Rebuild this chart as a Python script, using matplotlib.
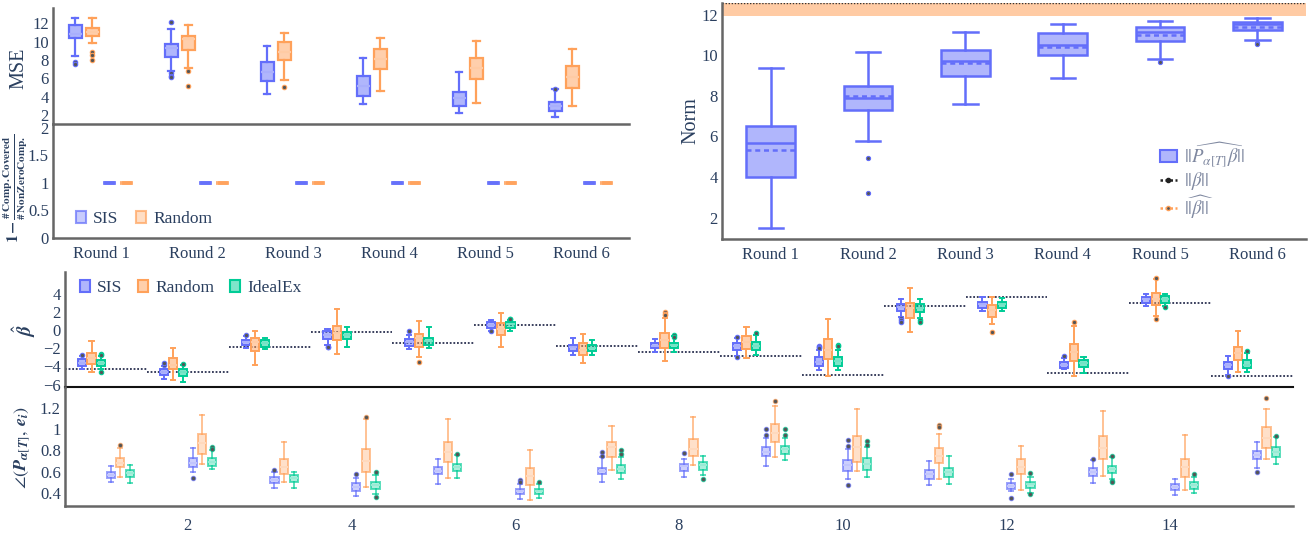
import matplotlib
matplotlib.use("Agg")
import matplotlib.pyplot as plt
import matplotlib.patches as mpatches
from matplotlib.lines import Line2D
from matplotlib.colors import to_rgba

plt.rcParams['font.family'] = ['Liberation Serif', 'DejaVu Serif']
plt.rcParams['mathtext.fontset'] = 'stix'

TXT = '#2a3f5f'
C_SIS, C_RND, C_IDL = '#636EFA', '#FFA15A', '#00CC96'

# ---------------- data ----------------
rounds = ['Round 1', 'Round 2', 'Round 3', 'Round 4', 'Round 5', 'Round 6']

# MSE panel
mse_sis_lo = [8.43, 6.84, 4.29, 3.2, 2.25, 1.75]
mse_sis_q1 = [10.36, 8.36, 5.7, 4.07, 2.98, 2.44]
mse_sis_med = [10.8, 9.34, 6.72, 5.16, 3.89, 2.98]
mse_sis_q3 = [11.81, 9.7, 7.81, 6.25, 4.54, 3.45]
mse_sis_hi = [12.55, 11.4, 9.56, 8.18, 6.72, 4.8]
mse_sis_out = [[7.8, 7.6], [12.1, 6.6, 6.3, 6.1], [], [], [], [4.85]]

mse_rnd_lo = [9.8, 7.1, 5.82, 4.6, 3.34, 2.98]
mse_rnd_q1 = [10.6, 9.1, 8.0, 6.98, 5.89, 4.9]
mse_rnd_med = [11.0, 10.25, 8.9, 8.07, 7.16, 6.11]
mse_rnd_q3 = [11.45, 10.65, 9.93, 9.16, 8.25, 7.38]
mse_rnd_hi = [12.6, 11.8, 10.98, 10.36, 10.07, 9.2]
mse_rnd_out = [[8.9, 8.55, 8.0], [6.83, 5.16], [5.09], [], [], []]

# coverage panel
cov_sis = [1, 1, 1, 1, 1, 1]
cov_rnd = [1, 1, 1, 1, 1, 1]

# Norm panel
norm_lo = [1.5, 5.78, 7.59, 8.9, 9.83, 10.77]
norm_q1 = [3.99, 7.31, 8.99, 10.02, 10.73, 11.26]
norm_med = [5.69, 7.92, 9.73, 10.52, 11.18, 11.56]
norm_mean = [5.33, 8.02, 9.61, 10.44, 11.01, 11.42]
norm_q3 = [6.52, 8.49, 10.27, 11.1, 11.42, 11.65]
norm_hi = [9.37, 10.19, 11.18, 11.56, 11.72, 11.83]
norm_out = [[], [4.92, 3.23], [], [], [9.7], [10.62, 10.55]]
norm_beta_true = 12.6
norm_beta_hat_band = [11.95, 12.62]

# beta-hat panel (components 1..15)
comp = list(range(1, 16))
beta_true = [-4.29, -4.65, -1.9, -0.18, -1.4, 0.55, -1.76, -2.45, -2.82, -4.95, 2.67, 3.59, -4.69, 2.93, -5.05]

bh_sis_lo = [-4.3, -5.4, -2.0, -1.65, -2.1, -0.1, -2.75, -2.4, -2.9, -4.4, 1.47, 2.12, -4.3, 2.64, -4.9]
bh_sis_q1 = [-4.0, -4.95, -1.65, -1.0, -1.76, 0.26, -2.3, -2.0, -2.2, -3.96, 2.1, 2.45, -4.2, 3.0, -4.3]
bh_sis_med = [-3.66, -4.65, -1.35, -0.55, -1.28, 0.55, -1.9, -1.75, -1.75, -3.48, 2.5, 2.82, -3.85, 3.37, -3.85]
bh_sis_q3 = [-3.2, -4.3, -1.1, -0.1, -1.0, 0.84, -1.6, -1.47, -1.4, -3.0, 2.86, 3.11, -3.48, 3.66, -3.48]
bh_sis_hi = [-2.9, -3.95, -0.7, 0.07, -0.55, 1.1, -0.9, -1.0, -0.85, -2.2, 3.37, 3.66, -3.1, 3.96, -2.86]
bh_sis_out = [[-2.75], [-3.8, -3.65], [-0.55], [-1.9, -1.85], [-0.1], [-0.1], [], [], [-0.73, -3.0],
              [-1.76, -1.9, -2.0], [1.28, 1.1, 0.9], [], [-2.86], [], [-5.05]]

bh_rnd_lo = [-4.6, -5.5, -3.8, -2.64, -3.0, -1.9, -3.66, -3.37, -3.1, -5.05, -0.2, 0.66, -5.05, 1.54, -4.58]
bh_rnd_q1 = [-3.77, -4.3, -2.3, -1.1, -1.83, -0.55, -2.75, -1.94, -2.1, -3.22, 1.36, 1.47, -3.37, 2.75, -3.3]
bh_rnd_med = [-3.1, -3.85, -1.3, -0.37, -0.9, 0.07, -2.2, -1.1, -1.28, -2.2, 2.4, 2.2, -2.38, 3.37, -2.56]
bh_rnd_q3 = [-2.56, -3.1, -0.9, 0.48, -0.48, 0.73, -1.47, -0.37, -0.66, -1.03, 3.0, 2.75, -1.54, 4.03, -1.83]
bh_rnd_hi = [-1.2, -1.95, -0.1, 2.27, 1.0, 1.9, -0.48, 1.28, 0.3, 1.17, 4.58, 3.59, 0.44, 5.57, -0.07]
bh_rnd_out = [[], [], [], [], [-3.55], [], [], [2.0, 1.8, 1.65], [], [], [], [-0.18], [0.9], [5.7, 1.17], []]

bh_idl_lo = [-4.3, -5.7, -2.1, -1.9, -2.0, -0.1, -2.75, -2.4, -2.75, -4.4, 1.28, 2.09, -4.76, 2.64, -4.58]
bh_idl_q1 = [-4.0, -5.0, -1.85, -1.0, -1.7, 0.26, -2.3, -2.0, -2.2, -3.92, 2.0, 2.45, -4.03, 3.0, -4.2]
bh_idl_med = [-3.6, -4.65, -1.4, -0.6, -1.2, 0.62, -1.94, -1.65, -1.75, -3.37, 2.45, 2.82, -3.66, 3.37, -3.85]
bh_idl_q3 = [-3.3, -4.3, -1.1, -0.18, -0.9, 0.84, -1.65, -1.4, -1.28, -2.93, 2.82, 3.11, -3.3, 3.74, -3.3]
bh_idl_hi = [-2.9, -3.85, -0.85, 0.3, 0.3, 1.1, -1.1, -0.7, -0.55, -2.2, 3.37, 3.48, -2.93, 3.96, -2.56]
bh_idl_out = [[-2.65, -2.8, -4.6], [-3.7], [], [], [], [1.2, 1.25], [], [-0.55, -0.75], [-0.37],
              [-1.65, -1.8], [1.1, 0.9], [], [], [2.5], [-2.27]]

# angle panel
ang_sis_lo = [0.506, 0.6, 0.443, 0.374, 0.484, 0.34, 0.506, 0.547, 0.657, 0.53, 0.47, 0.418, 0.49, 0.38, 0.632]
ang_sis_q1 = [0.544, 0.641, 0.49, 0.42, 0.575, 0.387, 0.575, 0.607, 0.748, 0.607, 0.531, 0.434, 0.562, 0.43, 0.717]
ang_sis_med = [0.572, 0.685, 0.52, 0.46, 0.607, 0.415, 0.61, 0.65, 0.79, 0.66, 0.574, 0.465, 0.6, 0.46, 0.757]
ang_sis_q3 = [0.6, 0.731, 0.553, 0.49, 0.641, 0.434, 0.636, 0.67, 0.83, 0.71, 0.616, 0.49, 0.632, 0.484, 0.798]
ang_sis_hi = [0.654, 0.82, 0.6, 0.537, 0.72, 0.484, 0.742, 0.72, 0.92, 0.81, 0.7, 0.531, 0.71, 0.528, 0.883]
ang_sis_out = [[], [0.538], [0.62], [0.58], [], [0.52, 0.5], [0.79, 0.75], [0.78], [1.0, 0.95],
               [0.898, 0.84, 0.474], [], [0.574, 0.355], [0.715], [], [0.6]]

ang_rnd_lo = [0.547, 0.673, 0.506, 0.46, 0.538, 0.333, 0.616, 0.665, 0.742, 0.607, 0.528, 0.426, 0.562, 0.426, 0.716]
ang_rnd_q1 = [0.641, 0.767, 0.578, 0.6, 0.694, 0.475, 0.742, 0.748, 0.883, 0.694, 0.679, 0.575, 0.72, 0.553, 0.827]
ang_rnd_med = [0.685, 0.874, 0.647, 0.7, 0.789, 0.56, 0.836, 0.81, 0.962, 0.836, 0.75, 0.642, 0.82, 0.642, 0.92]
ang_rnd_q3 = [0.726, 0.956, 0.72, 0.81, 0.883, 0.632, 0.883, 0.906, 1.047, 0.94, 0.821, 0.72, 0.937, 0.716, 1.018]
ang_rnd_hi = [0.82, 1.135, 0.883, 1.1, 1.097, 0.8, 1.034, 1.12, 1.22, 1.19, 0.959, 0.845, 1.175, 0.946, 1.195]
ang_rnd_out = [[0.853], [], [], [1.113], [], [], [], [], [1.27], [], [1.04, 1.025], [], [], [], [1.30]]

ang_idl_lo = [0.497, 0.623, 0.45, 0.39, 0.538, 0.35, 0.528, 0.566, 0.71, 0.553, 0.48, 0.4, 0.53, 0.4, 0.674]
ang_idl_q1 = [0.553, 0.657, 0.506, 0.437, 0.607, 0.39, 0.585, 0.617, 0.77, 0.62, 0.553, 0.45, 0.585, 0.44, 0.742]
ang_idl_med = [0.585, 0.69, 0.537, 0.475, 0.64, 0.42, 0.625, 0.66, 0.81, 0.672, 0.6, 0.48, 0.622, 0.47, 0.788]
ang_idl_q3 = [0.616, 0.726, 0.569, 0.506, 0.67, 0.44, 0.663, 0.689, 0.84, 0.725, 0.639, 0.506, 0.654, 0.5, 0.83]
ang_idl_hi = [0.66, 0.8, 0.6, 0.565, 0.76, 0.48, 0.742, 0.75, 0.92, 0.836, 0.75, 0.55, 0.735, 0.547, 0.93]
ang_idl_out = [[], [0.83, 0.81], [], [0.6, 0.358], [0.764], [0.5], [0.8, 0.77], [0.53], [1.0, 0.95],
               [0.89, 0.85], [], [0.59, 0.39], [0.745, 0.51, 0.50], [0.58], [0.935]]

# ---------------- helpers ----------------
W, H = 1310, 535
fig = plt.figure(figsize=(W / 100, H / 100), dpi=100)


def add_ax(x0, y0, x1, y1):
    return fig.add_axes([x0 / W, 1 - y1 / H, (x1 - x0) / W, (y1 - y0) / H])


def lighten(c, f):
    r, g, b, _ = to_rgba(c)
    return (r + (1 - r) * f, g + (1 - g) * f, b + (1 - b) * f, 1)


def boxes(ax, pos, lo, q1, med, q3, hi, out, color, width, alpha=1.0, fill=0.5, lw=1.6,
          med_color=None, mean=None, fsize=3.2, zorder=3):
    stats = []
    for i in range(len(pos)):
        d = dict(whislo=lo[i], q1=q1[i], med=med[i], q3=q3[i], whishi=hi[i], fliers=out[i])
        if mean is not None:
            d['mean'] = mean[i]
        stats.append(d)
    ec = to_rgba(color, alpha)
    fc = to_rgba(color, fill * alpha)
    mc = med_color if med_color is not None else ec
    ax.bxp(stats, positions=pos, widths=width, patch_artist=True,
           showmeans=mean is not None, meanline=True, manage_ticks=False,
           boxprops=dict(facecolor=fc, edgecolor=ec, linewidth=lw),
           whiskerprops=dict(color=ec, linewidth=lw),
           capprops=dict(color=ec, linewidth=lw),
           medianprops=dict(color=mc, linewidth=lw),
           meanprops=dict(color=ec, linewidth=lw, linestyle=(0, (2, 1.5))),
           flierprops=dict(marker='o', markersize=fsize, markerfacecolor='#555555',
                           markeredgecolor=to_rgba(color, alpha), markeredgewidth=0.8,
                           linestyle='none'),
           zorder=zorder)


def style(ax, spine_color='#666666', lw=1.8):
    for s in ['top', 'right']:
        ax.spines[s].set_visible(False)
    for s in ['left', 'bottom']:
        ax.spines[s].set_color(spine_color)
        ax.spines[s].set_linewidth(lw)
    ax.tick_params(length=0, labelsize=12, colors=TXT, pad=3)
    ax.set_facecolor('none')


def fmt(v):
    s = ('%g' % v)
    return s.replace('-', '\u2212')


# ---------------- MSE panel ----------------
ax1 = add_ax(53, 8, 629, 123.5)
style(ax1)
idx = list(range(len(rounds)))
boxes(ax1, [i - 0.27 for i in idx], mse_sis_lo, mse_sis_q1, mse_sis_med, mse_sis_q3, mse_sis_hi,
      mse_sis_out, C_SIS, 0.135, med_color=lighten(C_SIS, 0.45))
boxes(ax1, [i - 0.09 for i in idx], mse_rnd_lo, mse_rnd_q1, mse_rnd_med, mse_rnd_q3, mse_rnd_hi,
      mse_rnd_out, C_RND, 0.135, med_color=lighten(C_RND, 0.45))
ax1.set_xlim(-0.5, 5.5)
ax1.set_ylim(1.07, 13.67)
ax1.set_yticks([2, 4, 6, 8, 10, 12])
ax1.set_yticklabels([fmt(v) for v in [2, 4, 6, 8, 10, 12]])
ax1.set_xticks([])

# ---------------- coverage panel ----------------
ax2 = add_ax(53, 123.5, 629, 237.7)
style(ax2)
zeros = [[] for _ in idx]
boxes(ax2, [i + 0.09 for i in idx], cov_sis, cov_sis, cov_sis, cov_sis, cov_sis, zeros,
      C_SIS, 0.135, alpha=0.6, lw=2.6)
boxes(ax2, [i + 0.27 for i in idx], cov_rnd, cov_rnd, cov_rnd, cov_rnd, cov_rnd, zeros,
      C_RND, 0.135, alpha=0.6, lw=2.6)
ax2.set_xlim(-0.5, 5.5)
ax2.set_ylim(0, 2.08)
ax2.set_yticks([0, 0.5, 1, 1.5, 2])
ax2.set_yticklabels([fmt(v) for v in [0, 0.5, 1, 1.5, 2]])
ax2.set_xticks(idx)
ax2.set_xticklabels(rounds)
ax2.tick_params(axis='x', pad=6)
h_sis = mpatches.Patch(facecolor=to_rgba(C_SIS, 0.35), edgecolor=to_rgba(C_SIS, 0.7), linewidth=1.5)
h_rnd = mpatches.Patch(facecolor=to_rgba(C_RND, 0.35), edgecolor=to_rgba(C_RND, 0.7), linewidth=1.5)
ax2.legend([h_sis, h_rnd], ['SIS', 'Random'], loc='center left',
           bbox_to_anchor=((76 - 53) / 576, (237.7 - 219) / 114.2), ncol=2, frameon=False,
           handlelength=0.55, handleheight=0.7, handletextpad=0.45, columnspacing=1.0,
           borderaxespad=0, borderpad=0, fontsize=12.5, labelcolor=TXT)

# ---------------- Norm panel ----------------
ax3 = add_ax(722, 3, 1306, 239)
style(ax3)
ax3.axhspan(norm_beta_hat_band[0], norm_beta_hat_band[1], color='#FFCBA4', zorder=1, lw=0)
ax3.axhline(norm_beta_true, color='#333333', ls=(0, (1, 1.2)), lw=1.0, zorder=2)
boxes(ax3, idx, norm_lo, norm_q1, norm_med, norm_q3, norm_hi, norm_out, C_SIS, 0.5,
      mean=norm_mean, lw=1.8, fsize=3.0)
ax3.set_xlim(-0.5, 5.5)
ax3.set_ylim(0.94, 12.59)
ax3.set_yticks([2, 4, 6, 8, 10, 12])
ax3.set_yticklabels([fmt(v) for v in [2, 4, 6, 8, 10, 12]])
ax3.set_xticks(idx)
ax3.set_xticklabels(rounds)
ax3.tick_params(axis='x', pad=6)
hb = mpatches.Patch(facecolor=to_rgba(C_SIS, 0.5), edgecolor=C_SIS, linewidth=1.5)
hl1 = Line2D([], [], color='#222222', ls=(0, (1, 1)), lw=1.8, marker='o', markersize=3)
hl2 = Line2D([], [], color='#FFA15A', ls=(0, (1, 1)), lw=1.8, marker='o', markersize=3,
             markerfacecolor='#555555', markeredgecolor='#FFA15A')
ax3.legend([hb, hl1, hl2],
           [r'$||\widehat{P_{\alpha[T]}\beta}||$', r'$||\beta||$', r'$\widehat{||\beta||}$'],
           loc='upper left', bbox_to_anchor=((1160 - 722) / 584, (239 - 140) / 236),
           frameon=False, handlelength=0.9, handleheight=0.6, handletextpad=0.4,
           labelspacing=0.05, borderaxespad=0, borderpad=0, fontsize=13.5, labelcolor='#7f88a0')

# ---------------- beta-hat panel ----------------
ax4 = add_ax(65, 272, 1293, 386.7)
style(ax4)
ax4.spines['bottom'].set_color('#111111')
ax4.spines['bottom'].set_linewidth(1.5)
ax4.hlines(beta_true, [c - 0.5 for c in comp], [c + 0.5 for c in comp], colors='#2a3050',
           linestyles=(0, (1, 1)), linewidth=1.3, zorder=2)
boxes(ax4, [c - 0.293 for c in comp], bh_sis_lo, bh_sis_q1, bh_sis_med, bh_sis_q3, bh_sis_hi,
      bh_sis_out, C_SIS, 0.1, lw=1.4, med_color=lighten(C_SIS, 0.45))
boxes(ax4, [c - 0.176 for c in comp], bh_rnd_lo, bh_rnd_q1, bh_rnd_med, bh_rnd_q3, bh_rnd_hi,
      bh_rnd_out, C_RND, 0.1, lw=1.4, med_color=lighten(C_RND, 0.45))
boxes(ax4, [c - 0.059 for c in comp], bh_idl_lo, bh_idl_q1, bh_idl_med, bh_idl_q3, bh_idl_hi,
      bh_idl_out, C_IDL, 0.1, lw=1.4, med_color=lighten(C_IDL, 0.45))
ax4.set_xlim(0.5, 15.5)
ax4.set_ylim(-6.23, 6.37)
ax4.set_yticks([-6, -4, -2, 0, 2, 4])
ax4.set_yticklabels([fmt(v) for v in [-6, -4, -2, 0, 2, 4]])
ax4.set_xticks([])
h3 = [mpatches.Patch(facecolor=to_rgba(c, 0.5), edgecolor=c, linewidth=1.5)
      for c in (C_SIS, C_RND, C_IDL)]
ax4.legend(h3, ['SIS', 'Random', 'IdealEx'], loc='center left',
           bbox_to_anchor=((80 - 65) / 1228, (386.7 - 288) / 114.7), ncol=3, frameon=False,
           handlelength=0.55, handleheight=0.7, handletextpad=0.45, columnspacing=0.9,
           borderaxespad=0, borderpad=0, fontsize=12.5, labelcolor=TXT)

# ---------------- angle panel ----------------
ax5 = add_ax(65, 386.7, 1293, 505.7)
style(ax5)
boxes(ax5, [c + 0.059 for c in comp], ang_sis_lo, ang_sis_q1, ang_sis_med, ang_sis_q3, ang_sis_hi,
      ang_sis_out, C_SIS, 0.1, alpha=0.65, lw=1.4, med_color=lighten(C_SIS, 0.6))
boxes(ax5, [c + 0.176 for c in comp], ang_rnd_lo, ang_rnd_q1, ang_rnd_med, ang_rnd_q3, ang_rnd_hi,
      ang_rnd_out, C_RND, 0.1, alpha=0.65, lw=1.4, med_color=lighten(C_RND, 0.6))
boxes(ax5, [c + 0.293 for c in comp], ang_idl_lo, ang_idl_q1, ang_idl_med, ang_idl_q3, ang_idl_hi,
      ang_idl_out, C_IDL, 0.1, alpha=0.65, lw=1.4, med_color=lighten(C_IDL, 0.6))
ax5.set_xlim(0.5, 15.5)
ax5.set_ylim(0.279, 1.402)
ax5.set_yticks([0.4, 0.6, 0.8, 1.0, 1.2])
ax5.set_yticklabels([fmt(v) for v in [0.4, 0.6, 0.8, 1.0, 1.2]])
ax5.set_xticks([2, 4, 6, 8, 10, 12, 14])
ax5.set_xticklabels(['2', '4', '6', '8', '10', '12', '14'])
ax5.tick_params(axis='x', pad=9)

# ---------------- axis titles ----------------
def ytitle(x, y, s, size, **kw):
    fig.text(x / W, 1 - y / H, s, rotation=90, ha='center', va='center', fontsize=size,
             color=TXT, **kw)


ytitle(19, 68, 'MSE', 14.5)
ytitle(16, 188, r'$\mathbf{1}\,\mathbf{-}\,\frac{\mathbf{\#\,Comp.Covered}}{\mathbf{\#\,NonZeroComp.}}$', 11.5)
ytitle(691, 121, 'Norm', 14.5)
ytitle(24, 330, r'$\hat{\boldsymbol{\beta}}$', 14)
ytitle(22, 448, r'$\angle(\boldsymbol{P}_{\boldsymbol{\alpha}[\boldsymbol{T}]},\, \boldsymbol{e}_{\boldsymbol{i}})$', 13)

fig.savefig('out.png', dpi=100)
